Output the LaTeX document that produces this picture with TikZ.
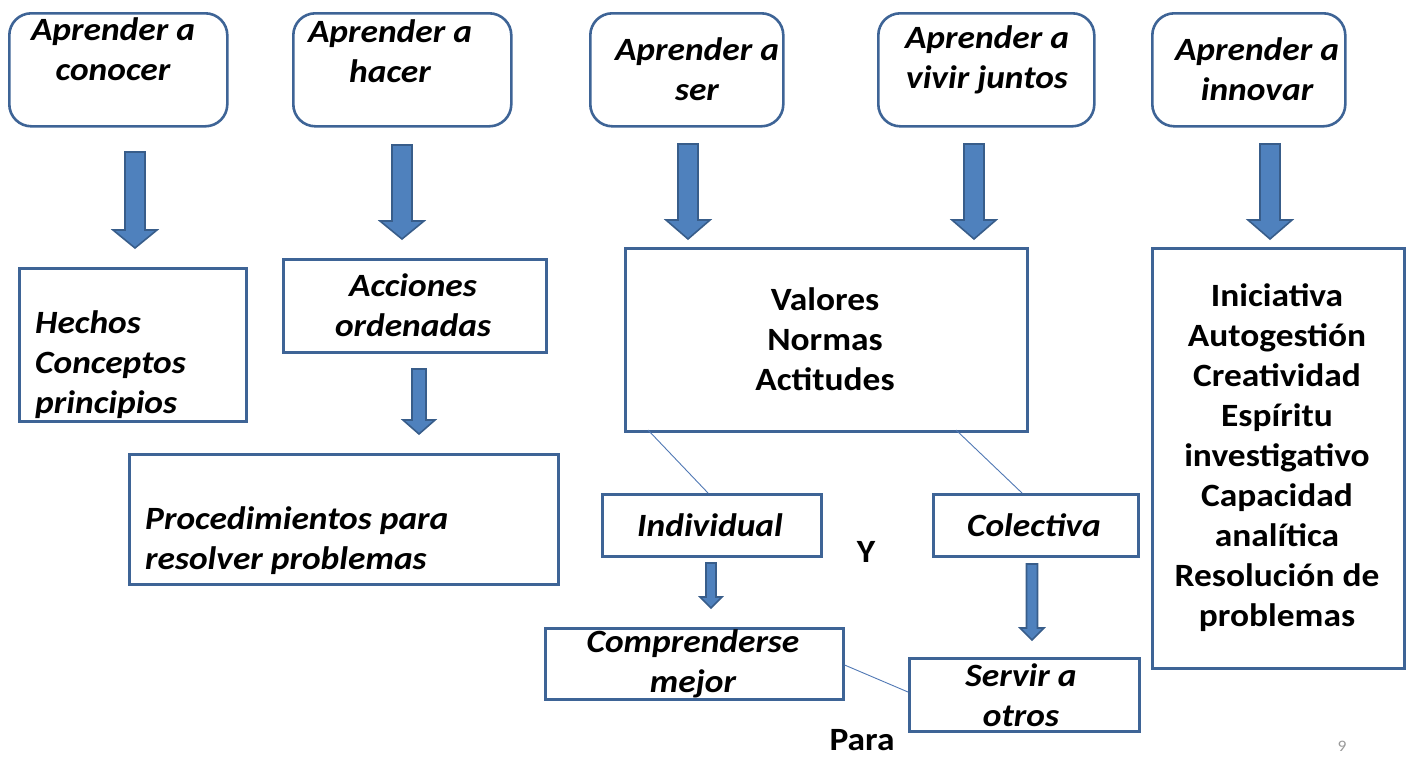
\documentclass[tikz,border=0pt]{standalone}
\usepackage{fontspec}
\setmainfont{Carlito}[FakeStretch=1.09]
\definecolor{boxblue}{RGB}{62,100,150}
\definecolor{arrfill}{RGB}{79,129,189}
\definecolor{arrdraw}{RGB}{56,93,138}
\definecolor{linkblue}{RGB}{80,120,180}
\newcommand{\blockarr}[7]{% name, cx, top, headstart, tip, shafthalf, headhalf
  \path[bigarrow] (#2-#6,#3) -- (#2+#6,#3) -- (#2+#6,#4) -- (#2+#7,#4) -- (#2,#5) -- (#2-#7,#4) -- (#2-#6,#4) -- cycle;
  \coordinate (#1) at (#2,#5);}
\begin{document}
\begin{tikzpicture}[x=1pt,y=-1pt,
  rbox/.style={draw=boxblue, line width=2.6pt, rounded corners=22pt, anchor=north west, inner sep=0pt},
  sbox/.style={draw=boxblue, line width=2.6pt, anchor=north west, inner sep=0pt},
  itxt/.style={font=\fontsize{32.5}{40}\selectfont\bfseries\itshape, align=center, inner sep=0pt},
  itxtl/.style={font=\fontsize{32.5}{40}\selectfont\bfseries\itshape, align=left, inner sep=0pt},
  btxt/.style={font=\fontsize{32.5}{40}\selectfont\bfseries, align=center, inner sep=0pt},
  bigarrow/.style={fill=arrfill, draw=arrdraw, line width=1.6pt, line join=miter},
  link/.style={draw=linkblue, line width=0.9pt}]
\useasboundingbox (0,0) rectangle (1412,758);
% top rounded boxes
\node[rbox, minimum width=218pt, minimum height=113pt] (b1) at (8,12) {};
\node[rbox, minimum width=218pt, minimum height=113pt] (b2) at (292,12) {};
\node[rbox, minimum width=193pt, minimum height=113pt] (b3) at (589,12) {};
\node[rbox, minimum width=216pt, minimum height=113pt] (b4) at (877,12) {};
\node[rbox, minimum width=193pt, minimum height=113pt] (b5) at (1151,12) {};
\node[itxt] (t1) at (113,49) {Aprender a\\conocer};
\node[itxt] (t2) at (390,51) {Aprender a\\hacer};
\node[itxt] (t3) at (697,69) {Aprender a\\ser};
\node[itxt] (t4) at (987,60) {Aprender a\\vivir juntos};
\node[itxt] (t5) at (1257,69) {Aprender a\\innovar};
% block arrows
\blockarr{a1}{135}{152}{230}{248}{10}{22}
\blockarr{a2}{402}{145}{221}{239}{10}{22}
\blockarr{a3}{688}{144}{220}{239}{10}{22}
\blockarr{a4}{974}{144}{220}{239}{10}{22}
\blockarr{a5}{1270}{144}{220}{239}{10}{22}
\blockarr{a6}{419}{369}{420}{434}{7}{16}
\blockarr{a7}{711}{563}{597}{608}{5}{11}
\blockarr{a8}{1032}{564}{628}{640}{5.5}{12}
% second row boxes
\node[sbox, minimum width=227pt, minimum height=153pt] (hechos) at (18,267) {};
\node[itxtl, anchor=west] (hechost) at (35,365) {Hechos\\Conceptos\\principios};
\node[sbox, minimum width=263pt, minimum height=93pt] (acc) at (282,258) {};
\node[itxt] (acct) at (413,305) {Acciones\\ordenadas};
\node[sbox, minimum width=429pt, minimum height=130pt] (proc) at (128,453) {};
\node[itxtl, anchor=west] (proct) at (145,541) {Procedimientos para\\resolver problemas};
\node[sbox, minimum width=402pt, minimum height=183pt] (val) at (624,247) {};
\node[btxt] (valt) at (825,339) {Valores\\Normas\\Actitudes};
\node[sbox, minimum width=252pt, minimum height=420pt] (inn) at (1151,247) {};
\node[btxt] (innt) at (1277,458) {Iniciativa\\Autogestión\\Creatividad\\Espíritu\\investigativo\\Capacidad\\analítica\\Resolución de\\problemas};
% lower boxes
\node[sbox, minimum width=219pt, minimum height=62pt] (ind) at (601,493) {};
\node[itxt] (indt) at (710,525) {Individual};
\node[sbox, minimum width=205pt, minimum height=62pt] (col) at (932,493) {};
\node[itxt] (colt) at (1034,525) {Colectiva};
\node[sbox, minimum width=298pt, minimum height=71pt] (comp) at (544,627) {};
\node[itxt] (compt) at (693,664) {Comprenderse\\mejor};
\node[sbox, minimum width=230pt, minimum height=73pt] (serv) at (908,657) {};
\node[itxt] (servt) at (1021,695) {Servir a\\otros};
% connectors
\coordinate (v1) at (648,430);
\coordinate (v2) at (956,430);
\draw[link] (v1) -- (ind.north -| 708,0);
\draw[link] (v2) -- (col.north -| 1022,0);
\draw[link] (comp.east |- 0,665) -- (serv.west |- 0,692);
% free texts
\node[btxt] (y) at (866,552) {Y};
\node[btxt, anchor=base] (para) at (862,750) {Para};
\node[font=\fontsize{16}{18}\selectfont, text=gray!80, inner sep=0pt] (nine) at (1342,746) {9};
\end{tikzpicture}
\end{document}
